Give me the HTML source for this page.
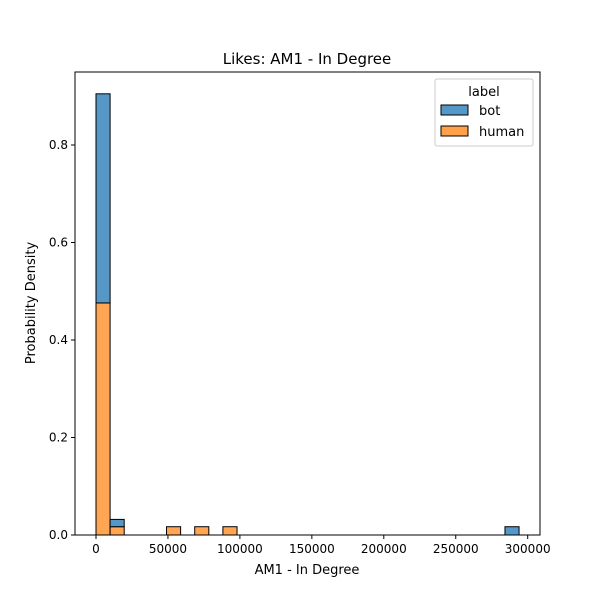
<!DOCTYPE html>
<html><head><meta charset="utf-8"><style>
body{margin:0;background:#fff;font-family:"Liberation Sans","DejaVu Sans",sans-serif}
</style></head><body>
<svg width="600" height="600" xmlns="http://www.w3.org/2000/svg" font-family="DejaVu Sans, Liberation Sans, sans-serif">
<rect width="600" height="600" fill="#fff"/>
<g id="bars"></g>
<g id="axes"></g>
<text x="307" y="64" text-anchor="middle" font-size="15">Likes: AM1 - In Degree</text>
<text x="307" y="574" text-anchor="middle" font-size="13">AM1 - In Degree</text>
<text x="35" y="303" text-anchor="middle" font-size="13" transform="rotate(-90 35 303)">Probability Density</text>
<g>
<rect x="435" y="79" width="98" height="67" fill="#fff" stroke="#ccc" rx="2"/>
<text x="484" y="96" text-anchor="middle" font-size="13">label</text>
<g><rect x="441" y="105" width="27" height="10" fill="#5597c6" stroke="#000"/><text x="479" y="115" font-size="13">bot</text></g>
<g><rect x="441" y="126" width="27" height="10" fill="#ffa04a" stroke="#000"/><text x="479" y="136" font-size="13">human</text></g>
</g>
</svg>
<script>
const binStart = [0, 9800, 49000, 68600, 88200, 284200];
const humanVals = [0.476, 0.017, 0.017, 0.017, 0.017, 0];
const botVals = [0.429, 0.015, 0, 0, 0, 0.017];
const binWidth = 9800;
const xTicks = [0, 50000, 100000, 150000, 200000, 250000, 300000];
const yTicks = [0, 0.2, 0.4, 0.6, 0.8];
const X0=75,X1=540,Y0=72,Y1=535;
const sx=v=>96+v*0.001439;
const sy=v=>535-v*487.5;
const NS='http://www.w3.org/2000/svg';
const bars=document.getElementById('bars'),axes=document.getElementById('axes');
function mk(tag,attrs,parent){const e=document.createElementNS(NS,tag);for(const k in attrs)e.setAttribute(k,attrs[k]);parent.appendChild(e);return e;}
binStart.forEach((b,i)=>{
  const x=sx(b),w=sx(b+binWidth)-x;
  if(humanVals[i]>0){const r=mk('rect',{x:x,y:sy(humanVals[i]),width:w,height:sy(0)-sy(humanVals[i]),fill:'#ffa04a',stroke:'#000','stroke-width':1,'fill-opacity':0.95},bars);
    
    }
  if(botVals[i]>0){const t=humanVals[i]+botVals[i];const r=mk('rect',{x:x,y:sy(t),width:w,height:sy(humanVals[i])-sy(t),fill:'#5597c6',stroke:'#000','stroke-width':1},bars);
    
    }
});
mk('rect',{x:X0,y:Y0,width:X1-X0,height:Y1-Y0,fill:'none',stroke:'#000','stroke-width':1},axes);
xTicks.forEach(t=>{const x=sx(t);mk('line',{x1:x,x2:x,y1:Y1,y2:Y1+4,stroke:'#000'},axes);
  const tx=mk('text',{x:x,y:Y1+18,'text-anchor':'middle','font-size':12},axes);tx.textContent=t;
  
  });
yTicks.forEach(t=>{const y=sy(t);mk('line',{x1:X0-4,x2:X0,y1:y,y2:y,stroke:'#000'},axes);
  const tx=mk('text',{x:X0-7,y:y+4,'text-anchor':'end','font-size':12},axes);tx.textContent=t.toFixed(1);
  
  });
</script>
</body></html>
